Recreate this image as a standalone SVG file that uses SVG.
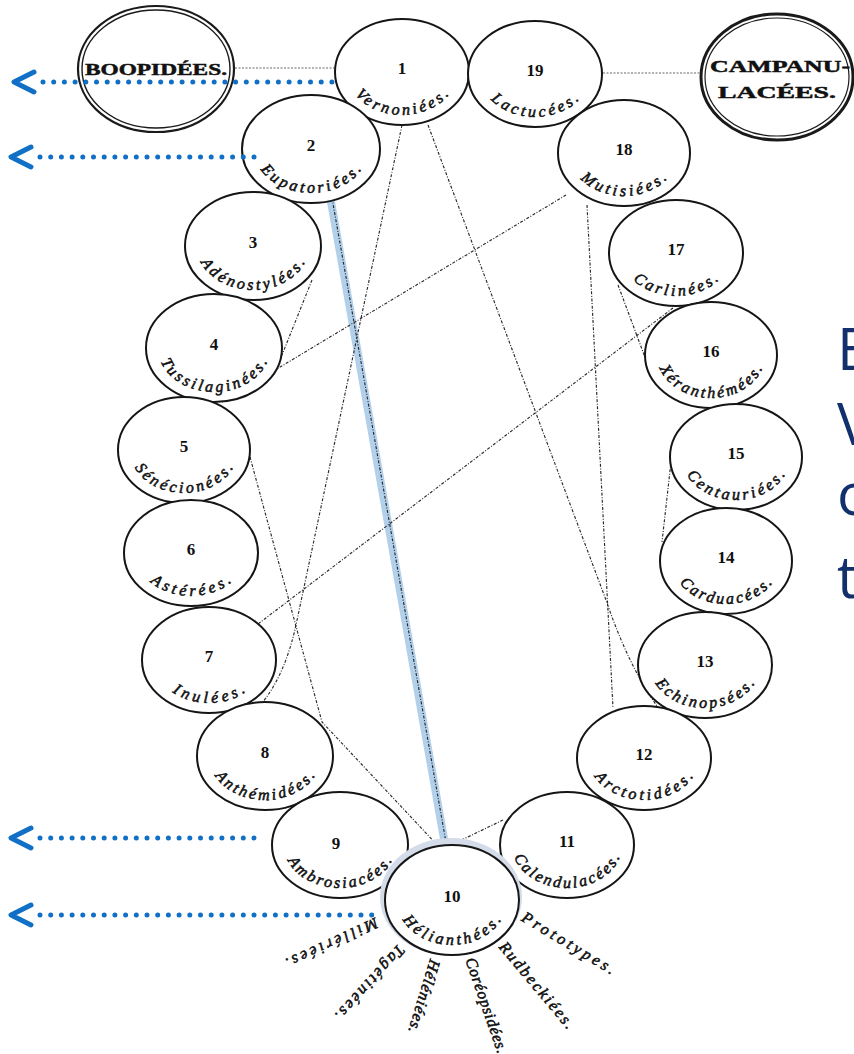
<svg xmlns="http://www.w3.org/2000/svg" width="854" height="1054" viewBox="0 0 854 1054">
  <style>
    .node { stroke: #151515; stroke-width: 2; fill: #ffffff; }
    .outer { stroke: #1a1a1a; fill: #ffffff; }
    .num { font-family: "Liberation Serif", serif; font-weight: bold; font-size: 17px; fill: #111; text-anchor: middle; }
    .name { font-family: "Liberation Serif", serif; font-style: italic; font-size: 16px; fill: #111; stroke: #111; stroke-width: 0.55; }
    .ray { font-family: "Liberation Serif", serif; font-style: italic; font-size: 16px; fill: #111; stroke: #111; stroke-width: 0.55; }
    .cap { font-family: "Liberation Serif", serif; font-weight: bold; font-size: 17px; fill: #111; stroke: #111; stroke-width: 0.5; text-anchor: middle; }
    .rel { fill: none; stroke: #2a2a2a; stroke-width: 1.15; stroke-dasharray: 3 1.6 1 1.6; }
    .faint { fill: none; stroke: #666; stroke-width: 1; stroke-dasharray: 2 1.5; }
    .dots { stroke: #1170c6; stroke-width: 5; stroke-linecap: round; stroke-dasharray: 0 10.7; fill: none; }
    .chev { stroke: #1170c6; stroke-width: 5; stroke-linecap: round; stroke-linejoin: round; fill: none; }
    .side { font-family: "Open Sans", "Noto Sans", sans-serif; font-size: 58px; fill: #12306b; }
  </style>

  <rect width="854" height="1054" fill="#ffffff"/>

  <!-- relation lines between tribes -->
  <g id="connectors">
    <line class="faint" x1="235" y1="68" x2="334" y2="68"/>
    <line class="faint" x1="603" y1="73" x2="700" y2="73"/>
    <line x1="330" y1="196" x2="446" y2="850" stroke="#b2d0ea" stroke-width="8"/>
    <line class="rel" x1="332" y1="198" x2="447" y2="848"/>
    <path class="rel" d="M402,125 L296,625 Q285,675 262,703"/>
    <path class="rel" d="M428,125 L606,600 Q628,665 657,706"/>
    <line class="rel" x1="587" y1="205" x2="613" y2="708"/>
    <line class="rel" x1="566" y1="195" x2="222" y2="402" stroke-dasharray="2 3"/>
    <line class="rel" x1="673" y1="308" x2="258" y2="624"/>
    <line class="rel" x1="618" y1="285" x2="646" y2="360"/>
    <line class="rel" x1="671" y1="462" x2="662" y2="542"/>
    <line class="rel" x1="312" y1="280" x2="282" y2="355"/>
    <path class="rel" d="M250,457 L322,722 L440,848"/>
    <line class="rel" x1="503" y1="820" x2="447" y2="847"/>
  </g>

  <!-- neighbouring families -->
  <g id="boopidees">
    <ellipse class="outer" cx="156" cy="69" rx="78" ry="63" stroke-width="2.2"/>
    <ellipse fill="none" stroke="#1a1a1a" stroke-width="1.4" cx="156" cy="69" rx="74" ry="59"/>
    <text class="cap" x="156" y="75" textLength="142" lengthAdjust="spacingAndGlyphs">BOOPIDÉES.</text>
  </g>
  <g id="campanulacees">
    <ellipse class="outer" cx="777" cy="77" rx="76" ry="63" stroke-width="3"/>
    <ellipse fill="none" stroke="#1a1a1a" stroke-width="1.2" cx="777" cy="77" rx="72" ry="59"/>
    <text class="cap" x="780" y="72" textLength="140" lengthAdjust="spacingAndGlyphs">CAMPANU-</text>
    <text class="cap" x="777" y="98" textLength="118" lengthAdjust="spacingAndGlyphs">LACÉES.</text>
  </g>

  <!-- tribes -->
  <g id="n1">
    <ellipse class="node" cx="402" cy="72" rx="67" ry="53" fill="#f8d8d5"/>
    <text class="num" x="402" y="74">1</text>
    <path id="p1" d="M347,72 A55,43 0 0 0 457,72" fill="none"/>
    <text class="name"><textPath href="#p1" startOffset="50%" text-anchor="middle" textLength="106" lengthAdjust="spacing">Vernoniées.</textPath></text>
  </g>
  <g id="n19">
    <ellipse class="node" cx="535" cy="74" rx="67" ry="53"/>
    <text class="num" x="535" y="76">19</text>
    <path id="p19" d="M480,74 A55,43 0 0 0 590,74" fill="none"/>
    <text class="name"><textPath href="#p19" startOffset="50%" text-anchor="middle" textLength="98" lengthAdjust="spacing">Lactucées.</textPath></text>
  </g>
  <g id="n2">
    <ellipse class="node" cx="311" cy="149" rx="69" ry="54" fill="#cbd4e4"/>
    <text class="num" x="311" y="151">2</text>
    <path id="p2" d="M254,149 A57,44 0 0 0 368,149" fill="none"/>
    <text class="name"><textPath href="#p2" startOffset="50%" text-anchor="middle" textLength="116" lengthAdjust="spacing">Eupatoriées.</textPath></text>
  </g>
  <g id="n18">
    <ellipse class="node" cx="624" cy="153" rx="66" ry="53"/>
    <text class="num" x="624" y="155">18</text>
    <path id="p18" d="M570,153 A54,43 0 0 0 678,153" fill="none"/>
    <text class="name"><textPath href="#p18" startOffset="50%" text-anchor="middle" textLength="96" lengthAdjust="spacing">Mutisiées.</textPath></text>
  </g>
  <g id="n3">
    <ellipse class="node" cx="253" cy="246" rx="68" ry="54"/>
    <text class="num" x="253" y="248">3</text>
    <path id="p3" d="M197,246 A56,44 0 0 0 309,246" fill="none"/>
    <text class="name"><textPath href="#p3" startOffset="50%" text-anchor="middle" textLength="124" lengthAdjust="spacing">Adénostylées.</textPath></text>
  </g>
  <g id="n17">
    <ellipse class="node" cx="676" cy="253" rx="67" ry="53"/>
    <text class="num" x="676" y="255">17</text>
    <path id="p17" d="M621,253 A55,43 0 0 0 731,253" fill="none"/>
    <text class="name"><textPath href="#p17" startOffset="50%" text-anchor="middle" textLength="94" lengthAdjust="spacing">Carlinées.</textPath></text>
  </g>
  <g id="n4">
    <ellipse class="node" cx="214" cy="348" rx="68" ry="54"/>
    <text class="num" x="214" y="350">4</text>
    <path id="p4" d="M158,348 A56,44 0 0 0 270,348" fill="none"/>
    <text class="name"><textPath href="#p4" startOffset="50%" text-anchor="middle" textLength="130" lengthAdjust="spacing">Tussilaginées.</textPath></text>
  </g>
  <g id="n16">
    <ellipse class="node" cx="711" cy="355" rx="66" ry="53"/>
    <text class="num" x="711" y="357">16</text>
    <path id="p16" d="M657,355 A54,43 0 0 0 765,355" fill="none"/>
    <text class="name"><textPath href="#p16" startOffset="50%" text-anchor="middle" textLength="126" lengthAdjust="spacing">Xéranthémées.</textPath></text>
  </g>
  <g id="n5">
    <ellipse class="node" cx="184" cy="450" rx="66" ry="53"/>
    <text class="num" x="184" y="452">5</text>
    <path id="p5" d="M130,450 A54,43 0 0 0 238,450" fill="none"/>
    <text class="name"><textPath href="#p5" startOffset="50%" text-anchor="middle" textLength="116" lengthAdjust="spacing">Sénécionées.</textPath></text>
  </g>
  <g id="n15">
    <ellipse class="node" cx="736" cy="457" rx="66" ry="53"/>
    <text class="num" x="736" y="459">15</text>
    <path id="p15" d="M682,457 A54,43 0 0 0 790,457" fill="none"/>
    <text class="name"><textPath href="#p15" startOffset="50%" text-anchor="middle" textLength="116" lengthAdjust="spacing">Centauriées.</textPath></text>
  </g>
  <g id="n6">
    <ellipse class="node" cx="191" cy="553" rx="67" ry="53"/>
    <text class="num" x="191" y="555">6</text>
    <path id="p6" d="M136,553 A55,43 0 0 0 246,553" fill="none"/>
    <text class="name"><textPath href="#p6" startOffset="50%" text-anchor="middle" textLength="88" lengthAdjust="spacing">Astérées.</textPath></text>
  </g>
  <g id="n14">
    <ellipse class="node" cx="726" cy="561" rx="66" ry="53"/>
    <text class="num" x="726" y="563">14</text>
    <path id="p14" d="M672,561 A54,43 0 0 0 780,561" fill="none"/>
    <text class="name"><textPath href="#p14" startOffset="50%" text-anchor="middle" textLength="106" lengthAdjust="spacing">Carduacées.</textPath></text>
  </g>
  <g id="n7">
    <ellipse class="node" cx="209" cy="660" rx="67" ry="53"/>
    <text class="num" x="209" y="662">7</text>
    <path id="p7" d="M154,660 A55,43 0 0 0 264,660" fill="none"/>
    <text class="name"><textPath href="#p7" startOffset="50%" text-anchor="middle" textLength="78" lengthAdjust="spacing">Inulées.</textPath></text>
  </g>
  <g id="n13">
    <ellipse class="node" cx="705" cy="665" rx="67" ry="53"/>
    <text class="num" x="705" y="667">13</text>
    <path id="p13" d="M650,665 A55,43 0 0 0 760,665" fill="none"/>
    <text class="name"><textPath href="#p13" startOffset="50%" text-anchor="middle" textLength="116" lengthAdjust="spacing">Echinopsées.</textPath></text>
  </g>
  <g id="n8">
    <ellipse class="node" cx="265" cy="756" rx="68" ry="54"/>
    <text class="num" x="265" y="758">8</text>
    <path id="p8" d="M209,756 A56,44 0 0 0 321,756" fill="none"/>
    <text class="name"><textPath href="#p8" startOffset="50%" text-anchor="middle" textLength="116" lengthAdjust="spacing">Anthémidées.</textPath></text>
  </g>
  <g id="n12">
    <ellipse class="node" cx="644" cy="758" rx="67" ry="52"/>
    <text class="num" x="644" y="760">12</text>
    <path id="p12" d="M589,758 A55,42 0 0 0 699,758" fill="none"/>
    <text class="name"><textPath href="#p12" startOffset="50%" text-anchor="middle" textLength="114" lengthAdjust="spacing">Arctotidées.</textPath></text>
  </g>
  <g id="n9">
    <ellipse class="node" cx="340" cy="845" rx="68" ry="53" fill="#dce8f5"/>
    <text class="num" x="336" y="849">9</text>
    <path id="p9" d="M284,845 A56,43 0 0 0 396,845" fill="none"/>
    <text class="name"><textPath href="#p9" startOffset="50%" text-anchor="middle" textLength="124" lengthAdjust="spacing">Ambrosiacées.</textPath></text>
  </g>
  <g id="n11">
    <ellipse class="node" cx="567" cy="845" rx="67" ry="53"/>
    <text class="num" x="567" y="847">11</text>
    <path id="p11" d="M512,845 A55,43 0 0 0 622,845" fill="none"/>
    <text class="name"><textPath href="#p11" startOffset="50%" text-anchor="middle" textLength="130" lengthAdjust="spacing">Calendulacées.</textPath></text>
  </g>
  <g id="n10">
    <ellipse cx="451" cy="897" rx="71" ry="59" fill="#d4dbe9"/>
    <ellipse class="node" cx="452" cy="900" rx="67" ry="55" fill="#c9d1e2"/>
    <text class="num" x="452" y="902">10</text>
    <path id="p10" d="M397,900 A55,45 0 0 0 507,900" fill="none"/>
    <text class="name"><textPath href="#p10" startOffset="50%" text-anchor="middle" textLength="116" lengthAdjust="spacing">Hélianthées.</textPath></text>
  </g>

  <!-- sections radiating from Hélianthées -->
  <g id="sections">
    <text class="ray" transform="translate(377,922) rotate(155)" dy="5" textLength="100" lengthAdjust="spacing">Millériées.</text>
    <text class="ray" transform="translate(402,947) rotate(132)" dy="5" textLength="96" lengthAdjust="spacing">Tagétinées.</text>
    <text class="ray" transform="translate(435,960) rotate(107)" dy="5" textLength="76" lengthAdjust="spacing">Héléniées.</text>
    <text class="ray" transform="translate(470,958) rotate(71)" dy="5" textLength="100" lengthAdjust="spacing">Coréopsidées.</text>
    <text class="ray" transform="translate(502,944) rotate(50)" dy="5" textLength="108" lengthAdjust="spacing">Rudbeckiées.</text>
    <text class="ray" transform="translate(523,916) rotate(31)" dy="5" textLength="106" lengthAdjust="spacing">Prototypes.</text>
  </g>

  <!-- dotted pointers -->
  <g id="pointers">
    <line class="dots" x1="43" y1="82" x2="333" y2="82"/>
    <polyline class="chev" points="34,72 14,82 34,92"/>
    <line class="dots" x1="40" y1="157" x2="258" y2="157"/>
    <polyline class="chev" points="31,147 11,157 31,167"/>
    <line class="dots" x1="40" y1="838" x2="258" y2="838"/>
    <polyline class="chev" points="31,828 11,838 31,848"/>
    <line class="dots" x1="40" y1="915" x2="380" y2="915"/>
    <polyline class="chev" points="31,905 11,915 31,925"/>
  </g>

  <!-- caption at right edge -->
  <text class="side" x="837">
    <tspan x="837" y="370">E</tspan>
    <tspan x="837" y="445">V</tspan>
    <tspan x="837" y="515">o</tspan>
    <tspan x="837" y="598">t</tspan>
  </text>
</svg>
